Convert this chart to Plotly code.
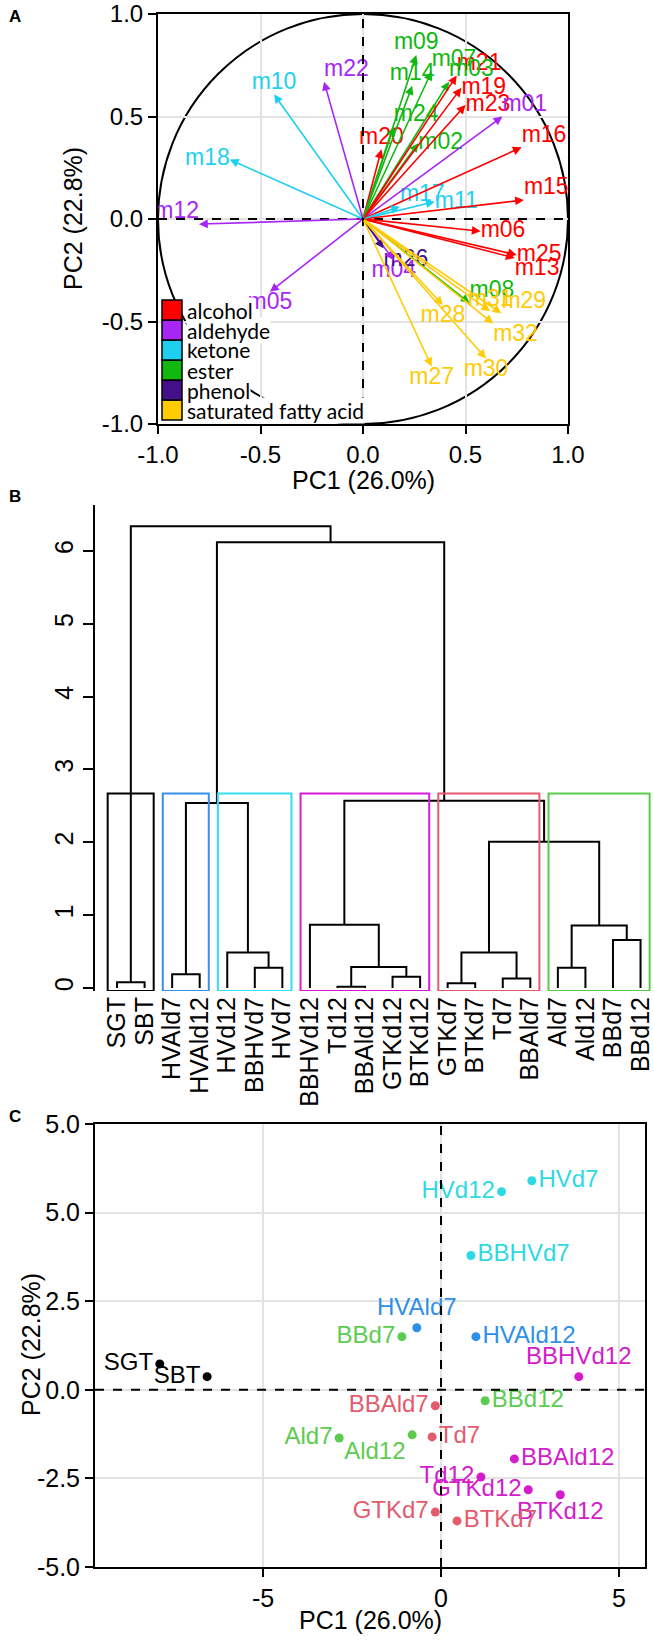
import plotly.graph_objects as go

W, H = 653, 1642
FONT = "Liberation Sans, Arial"


def fx(p):
    return p / W


def fy(p):
    return 1 - p / H


# ---------------- panel A: loadings ----------------
var_names = ["m01", "m02", "m03", "m04", "m05", "m06", "m07", "m08", "m09", "m10",
             "m11", "m12", "m13", "m14", "m15", "m16", "m17", "m18", "m19", "m20",
             "m21", "m22", "m23", "m24", "m25", "m26", "m27", "m28", "m29", "m30",
             "m31", "m32"]
var_pc1 = [0.68, 0.27, 0.42, 0.15, -0.454, 0.574, 0.335, 0.52, 0.26, -0.434,
           0.35, -0.80, 0.74, 0.24, 0.785, 0.774, 0.18, -0.65, 0.48, 0.09,
           0.457, -0.19, 0.50, 0.15, 0.75, 0.10, 0.335, 0.39, 0.675, 0.60,
           0.62, 0.635]
var_pc2 = [0.50, 0.37, 0.67, -0.20, -0.355, -0.06, 0.72, -0.41, 0.80, 0.608,
           0.084, -0.025, -0.19, 0.65, 0.093, 0.35, 0.06, 0.29, 0.64, 0.34,
           0.70, 0.67, 0.556, 0.45, -0.175, -0.143, -0.72, -0.42, -0.46, -0.68,
           -0.45, -0.51]
var_class = ["aldehyde", "ester", "ester", "aldehyde", "aldehyde", "alcohol", "ester", "ester", "ester", "ketone",
             "ketone", "aldehyde", "alcohol", "ester", "alcohol", "alcohol", "ketone", "ketone", "alcohol", "alcohol",
             "alcohol", "aldehyde", "alcohol", "ester", "alcohol", "phenol", "saturated fatty acid",
             "saturated fatty acid", "saturated fatty acid", "saturated fatty acid",
             "saturated fatty acid", "saturated fatty acid"]
classes = ["alcohol", "aldehyde", "ketone", "ester", "phenol", "saturated fatty acid"]

class_colors = {"alcohol": "#FF0000", "aldehyde": "#A726F5", "ketone": "#1FCFF0",
                "ester": "#10B810", "phenol": "#44108A", "saturated fatty acid": "#FFCB05"}
var_textpos = ["top right", "middle right", "top right", "bottom center", "bottom center",
               "middle right", "top right", "top right", "top center", "top center",
               "middle right", "top left", "bottom right", "top center", "top right",
               "top right", "top right", "middle left", "middle right", "top center",
               "top right", "top right", "middle right", "top right", "middle right",
               "bottom right", "bottom center", "bottom center", "top right", "bottom center",
               "top center", "bottom right"]

# ---------------- panel B: dendrogram ----------------
leaf_labels = ["SGT", "SBT", "HVAld7", "HVAld12", "HVd12", "BBHVd7", "HVd7", "BBHVd12",
               "Td12", "BBAld12", "GTKd12", "BTKd12", "GTKd7", "BTKd7", "Td7", "BBAld7",
               "Ald7", "Ald12", "BBd7", "BBd12"]
# hclust style merge table: negative = leaf, positive = earlier merge
merge_pairs = [(-9, -10), (-13, -14), (-1, -2), (-15, -16), (-11, -12), (-3, -4),
               (-6, -7), (-17, -18), (1, 5), (-5, 7), (2, 4), (-19, -20), (8, 12),
               (-8, 9), (11, 13), (6, 10), (14, 15), (16, 17), (3, 18)]
merge_heights = [0.02, 0.065, 0.08, 0.13, 0.155, 0.19, 0.28, 0.28, 0.29, 0.49, 0.49,
                 0.66, 0.86, 0.87, 2.01, 2.54, 2.57, 6.12, 6.34]
cluster_sizes = [2, 2, 3, 5, 4, 4]
cluster_colors = ["#000000", "#3A8FE8", "#33DDEE", "#D61CD6", "#E8596E", "#5BCB4C"]
cut_height = 2.67

# ---------------- panel C: scores ----------------
smp_names = ["SGT", "SBT", "HVd7", "HVd12", "BBHVd7", "HVAld7", "BBd7", "HVAld12",
             "BBHVd12", "BBd12", "BBAld7", "Td7", "Ald12", "Ald7", "BBAld12", "Td12",
             "GTKd12", "BTKd12", "GTKd7", "BTKd7"]
smp_pc1 = [-7.9, -6.57, 2.55, 1.70, 0.84, -0.68, -1.10, 0.98, 3.87, 1.24,
           -0.16, -0.25, -0.81, -2.86, 2.06, 1.12, 2.45, 3.35, -0.16, 0.45]
smp_pc2 = [0.73, 0.37, 5.90, 5.59, 3.79, 1.75, 1.50, 1.50, 0.37, -0.31,
           -0.45, -1.33, -1.27, -1.36, -1.95, -2.46, -2.82, -2.96, -3.45, -3.70]
smp_group = [0, 0, 2, 2, 2, 1, 5, 1, 3, 5, 4, 4, 5, 5, 3, 3, 3, 3, 4, 4]
group_colors = ["#000000", "#2E8FE8", "#2ED9E3", "#D31CCB", "#E35B6D", "#5CCB50"]
smp_textpos = ["middle left", "middle left", "middle right", "middle left", "middle right",
               "top center", "middle left", "middle right", "top center", "middle right",
               "middle left", "middle right", "bottom left", "middle left", "middle right",
               "middle left", "middle left", "bottom center", "middle left", "middle right"]

fig = go.Figure()
annotations = []
shapes = []

# ---- A: labels + arrows
for c in classes:
    idx = [i for i, v in enumerate(var_class) if v == c]
    fig.add_trace(go.Scatter(
        x=[var_pc1[i] for i in idx], y=[var_pc2[i] for i in idx],
        text=[var_names[i] for i in idx], mode="text",
        textposition=[var_textpos[i] for i in idx],
        textfont=dict(family=FONT, size=23, color=class_colors[c]),
        xaxis="x", yaxis="y", showlegend=False, hoverinfo="skip"))
for n, x, y, c in zip(var_names, var_pc1, var_pc2, var_class):
    annotations.append(dict(x=x, y=y, ax=0, ay=0, xref="x", yref="y", axref="x", ayref="y",
                            text="", showarrow=True, arrowhead=2, arrowsize=1.1,
                            arrowwidth=1.6, arrowcolor=class_colors[c],
                            standoff=0, startstandoff=0))

shapes.append(dict(type="circle", xref="x", yref="y", x0=-1, y0=-1, x1=1, y1=1,
                   line=dict(color="black", width=2), layer="below"))
shapes.append(dict(type="line", xref="x", yref="y domain", x0=0, x1=0, y0=0, y1=1,
                   line=dict(color="black", width=2, dash="dash"), layer="above"))
shapes.append(dict(type="line", xref="x domain", yref="y", x0=0, x1=1, y0=0, y1=0,
                   line=dict(color="black", width=2, dash="dash"), layer="above"))

# legend of panel A (bottom row first so the white text boxes keep descenders)
for k in reversed(range(len(classes))):
    c = classes[k]
    top = 300 + 20 * k
    shapes.append(dict(type="rect", xref="paper", yref="paper", x0=fx(162), x1=fx(182),
                       y0=fy(top + 20), y1=fy(top), fillcolor=class_colors[c],
                       line=dict(color="black", width=1.5), layer="above"))
    annotations.append(dict(x=fx(186), y=fy(top + 10), xref="paper", yref="paper",
                            text=c, showarrow=False, xanchor="left", yanchor="middle",
                            bgcolor="white", borderpad=0,
                            font=dict(family="Lato, Open Sans", size=21, color="black")))

# ---- B: dendrogram
pos = {}
seg_x, seg_y = [], []


def node(k):
    if k < 0:
        return float(-k), 0.0
    return pos[k]


for i, (a, b) in enumerate(merge_pairs, start=1):
    h = merge_heights[i - 1]
    (xa, ha), (xb, hb) = node(a), node(b)
    seg_x += [xa, xa, xb, xb, None]
    seg_y += [ha, h, h, hb, None]
    pos[i] = ((xa + xb) / 2, h)

fig.add_trace(go.Scatter(x=seg_x, y=seg_y, mode="lines", line=dict(color="black", width=2),
                         xaxis="x2", yaxis="y2", showlegend=False, hoverinfo="skip"))

start = 0
for size, col in zip(cluster_sizes, cluster_colors):
    shapes.append(dict(type="rect", xref="x2", yref="y2", x0=start + 0.66,
                       x1=start + size + 0.33, y0=-0.04, y1=cut_height,
                       line=dict(color=col, width=2), layer="above"))
    start += size

# ---- C: scores
for g, col in enumerate(group_colors):
    idx = [i for i, v in enumerate(smp_group) if v == g]
    fig.add_trace(go.Scatter(
        x=[smp_pc1[i] for i in idx], y=[smp_pc2[i] for i in idx],
        text=[smp_names[i] for i in idx], mode="markers+text",
        textposition=[smp_textpos[i] for i in idx],
        marker=dict(size=9, color=col),
        textfont=dict(family=FONT, size=24, color=col),
        xaxis="x3", yaxis="y3", showlegend=False, cliponaxis=False, hoverinfo="skip"))

shapes.append(dict(type="line", xref="x3", yref="y3 domain", x0=0, x1=0, y0=0, y1=1,
                   line=dict(color="black", width=2, dash="dash"), layer="above"))
shapes.append(dict(type="line", xref="x3 domain", yref="y3", x0=0, x1=1, y0=0, y1=0,
                   line=dict(color="black", width=2, dash="dash"), layer="above"))


# ---- titles / panel letters
def txt(s, x, y, size=25, angle=0, bold=False):
    annotations.append(dict(x=fx(x), y=fy(y), xref="paper", yref="paper",
                            text="<b>%s</b>" % s if bold else s, showarrow=False,
                            textangle=angle, xanchor="center", yanchor="middle",
                            font=dict(family=FONT, size=size, color="black")))


txt("PC2 (22.8%)", 73, 219, angle=-90)
txt("PC1 (26.0%)", 363, 480)
txt("PC2 (22.8%)", 31, 1345, angle=-90)
txt("PC1 (26.0%)", 370, 1620)
txt("A", 15, 16, size=17, bold=True)
txt("B", 15, 497, size=17, bold=True)
txt("C", 15, 1116, size=17, bold=True)

frame = dict(showline=True, linecolor="black", linewidth=2, mirror=True, ticks="outside",
             ticklen=8, tickwidth=2, tickcolor="black", zeroline=False, showgrid=True,
             gridcolor="#E3E3E3", gridwidth=1.5, automargin=False,
             tickfont=dict(family=FONT, size=24, color="black"))
pa = [-1, -0.5, 0, 0.5, 1]
pa_txt = ["-1.0", "-0.5", "0.0", "0.5", "1.0"]

fig.update_layout(
    width=W, height=H, margin=dict(l=0, r=0, t=0, b=0),
    paper_bgcolor="white", plot_bgcolor="white",
    xaxis=dict(frame, domain=[fx(158), fx(568)], range=[-1, 1], tickvals=pa, ticktext=pa_txt,
               anchor="y"),
    yaxis=dict(frame, domain=[fy(424), fy(14)], range=[-1, 1], tickvals=pa, ticktext=pa_txt,
               anchor="x"),
    xaxis2=dict(domain=[fx(95), fx(651)], range=[0.2, 20.38], anchor="y2",
                tickvals=list(range(1, len(leaf_labels) + 1)), ticktext=leaf_labels,
                tickangle=-90, ticks="", showline=False, showgrid=False, zeroline=False,
                automargin=False, ticklabeloverflow="allow",
                tickfont=dict(family=FONT, size=25, color="black")),
    yaxis2=dict(domain=[fy(991), fy(505)], range=[-0.04, 6.63], anchor="x2",
                tickvals=list(range(0, 7)), tickangle=-90, ticks="outside", ticklen=10,
                tickwidth=2, tickcolor="black", showline=True, linecolor="black", linewidth=2,
                showgrid=False, zeroline=False, automargin=False,
                tickfont=dict(family=FONT, size=25, color="black")),
    xaxis3=dict(frame, domain=[fx(95), fx(645)], range=[-9.72, 5.73], tickvals=[-5, 0, 5],
                ticktext=["-5", "0", "5"], anchor="y3",
                tickfont=dict(family=FONT, size=25, color="black")),
    yaxis3=dict(frame, domain=[fy(1567), fy(1124)], range=[-5.0, 7.5],
                tickvals=[-5, -2.5, 0, 2.5, 5, 7.5],
                ticktext=["-5.0", "-2.5", "0.0", "2.5", "5.0", "5.0"], anchor="x3",
                tickfont=dict(family=FONT, size=25, color="black")),
    shapes=shapes, annotations=annotations,
)

# drop the default page margin so the 653x1642 figure fills the window exactly
fig.write_html("out.html", config={"displayModeBar": False},
               post_script="document.body.style.margin='0px';")
